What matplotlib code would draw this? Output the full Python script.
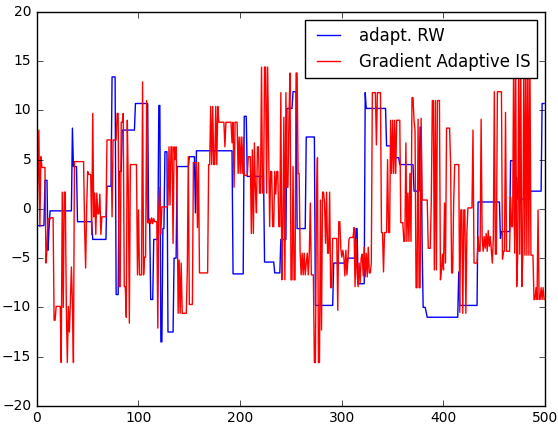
import numpy as np
import matplotlib
matplotlib.use('Agg')
import matplotlib.pyplot as plt

n_iter = 500

# adapt. RW : (start index, value) -- value is held until next start
rw_start = [0, 8, 11, 12, 13, 35, 36, 40, 55, 69, 74, 78, 81, 84, 97, 110, 112, 115,
            120, 122, 124, 126, 129, 135, 138, 150, 156, 157, 193, 204, 207, 224,
            234, 240, 246, 252, 256, 265, 274, 292, 306, 314, 316, 323, 324, 344,
            349, 357, 371, 377, 379, 380, 383, 384, 415, 416, 434, 456, 457, 466,
            470, 471, 473, 485, 497]
rw_val = [-1.7, 2.9, -4.2, -2.0, -0.2, 8.2, 4.3, -1.3, -3.1, 2.3, 13.4, -8.7, 3.8, 8.0,
          10.7, -1.4, -9.2, -3.1, 10.5, -13.5, -2.0, 5.8, -12.5, -5.0, 4.3, 5.3, -0.4,
          5.9, -6.6, 9.4, 3.3, -5.4, -6.5, -3.1, 10.2, 11.9, -2.0, 7.3, -9.8, -5.5,
          -5.0, -2.0, -7.6, 11.8, 10.2, 6.4, 5.2, 4.5, 1.8, 8.3, -4.0, -10.0, -10.5,
          -11.0, -6.4, -9.8, 0.7, -3.0, -2.3, 4.9, -3.1, 3.2, 1.0, 1.8, 10.7]

# Gradient Adaptive IS : (start index, value)
gis_start = [0, 1, 2, 3, 4, 5, 9, 10, 11, 14, 17, 19, 24, 25, 26, 27, 29, 30, 31, 32,
             33, 34, 35, 36, 37, 47, 48, 49, 50, 51, 54, 55, 56, 57, 58, 59, 60, 62,
             63, 64, 69, 74, 75, 79, 81, 83, 84, 85, 86, 88, 89, 90, 91, 92, 99, 100,
             101, 104, 105, 106, 108, 109, 111, 112, 113, 114, 115, 116, 119, 120, 121,
             122, 123, 129, 130, 131, 132, 134, 135, 136, 137, 138, 139, 140, 141, 142,
             143, 148, 149, 150, 154, 158, 159, 160, 169, 171, 172, 173, 174, 176, 177,
             178, 179, 185, 186, 192, 193, 194, 195, 198, 199, 200, 201, 202, 203, 204,
             208, 211, 212, 213, 214, 215, 216, 217, 219, 221, 222, 224, 226, 227, 228,
             229, 230, 232, 234, 235, 236, 238, 240, 241, 242, 243, 244, 245, 246, 248,
             249, 250, 252, 253, 255, 257, 259, 260, 261, 262, 263, 264, 265, 266, 267,
             268, 269, 270, 273, 275, 276, 277, 279, 280, 281, 283, 284, 285, 286, 288,
             289, 291, 296, 297, 299, 300, 301, 302, 303, 304, 305, 306, 307, 308, 312,
             313, 314, 315, 316, 317, 318, 319, 320, 321, 322, 323, 324, 325, 326, 327,
             329, 330, 334, 335, 339, 341, 342, 345, 346, 348, 349, 350, 351, 352, 353,
             354, 358, 361, 363, 364, 365, 366, 367, 368, 369, 371, 372, 373, 375, 376,
             377, 378, 379, 385, 388, 389, 391, 392, 393, 394, 397, 398, 399, 400, 401,
             402, 403, 407, 408, 410, 411, 416, 417, 419, 420, 422, 423, 424, 429, 430,
             434, 435, 437, 438, 439, 440, 441, 442, 443, 444, 445, 446, 447, 448, 449,
             450, 451, 453, 458, 459, 461, 462, 466, 467, 469, 470, 471, 472, 473, 474,
             475, 476, 477, 478, 479, 480, 481, 482, 483, 484, 485, 486, 489, 491, 492,
             493, 494, 496, 497, 498, 499]
gis_val = [-2.6, 3.0, 8.0, -1.8, 5.3, 4.2, -5.5, -4.0, -1.0, -0.9, -11.3, -9.9, -15.6,
           1.7, -10.0, 1.7, -9.9, -15.6, -9.9, -12.5, -9.5, -5.9, -9.5, -15.6, 4.8,
           -2.0, -6.0, 0.0, 3.8, 3.5, -2.6, 9.7, -0.8, 1.6, -2.6, 1.6, -0.5, 1.5, -2.6,
           -0.8, 7.0, -0.8, 7.0, 9.7, -7.9, 8.8, 8.8, 9.7, -7.9, -11.0, 9.0, 2.0, -11.6,
           4.5, -6.7, -0.1, -6.7, 12.9, -6.7, -4.9, 11.0, -1.4, -1.0, -1.5, -0.9, -1.5,
           -1.0, -1.3, -12.1, 0.0, 2.2, -2.6, 0.2, 0.4, 6.3, 0.4, 6.3, -3.5, 6.3, 5.0,
           6.3, 0.5, -10.6, -5.2, -10.6, -5.5, -10.6, -6.2, 5.3, -9.7, 4.7, -1.9, 4.7,
           -6.5, 4.5, 10.4, 4.5, 10.4, 4.5, 10.4, 4.5, 10.4, 8.8, 6.3, 8.8, 6.7, 8.8,
           2.2, 8.8, 3.6, 7.3, 3.6, 7.3, 3.6, 7.3, 3.4, 5.3, -2.5, 6.0, -2.5, 6.7, 2.0,
           -0.4, 6.3, 1.6, 14.4, 1.6, 14.4, 1.6, 14.4, 6.0, -1.8, 3.8, -1.8, 3.8, 1.5,
           3.8, -1.8, 11.8, -7.2, -2.0, 9.3, -7.2, 11.8, 2.2, 9.3, 13.8, -7.2, 4.3, -7.2,
           13.8, 3.6, -4.5, -6.7, -4.5, -6.7, -4.5, -6.7, -5.5, -4.5, -6.7, -4.5, 0.6,
           -6.7, -15.6, 0.0, 5.2, -15.6, 0.9, -12.3, 1.7, 0.6, -3.5, 1.7, -4.5, 1.7,
           -8.0, -3.0, -10.3, -1.3, -4.0, -4.9, -4.2, -4.9, -6.8, -4.2, -6.7, -5.2, -3.1,
           -2.9, -1.9, -7.9, -3.1, -6.5, -7.9, -5.5, -7.5, -5.0, -4.6, -6.8, -3.9, -6.9,
           -4.5, -6.9, -3.9, -6.5, -5.5, 11.8, 6.5, 11.8, -2.4, -6.4, -2.4, 5.0, -2.4,
           9.0, 3.6, 9.0, 3.6, 9.0, 3.6, 9.0, -1.4, -3.3, 6.7, -3.3, 1.6, -3.3, 3.6,
           -3.3, 11.3, 9.0, 8.0, -8.0, 9.1, -8.0, -8.0, 9.2, 0.9, -4.0, 0.9, 11.0, -6.2,
           11.0, -6.2, 11.0, -7.2, -6.2, -4.6, -6.2, 0.6, -5.5, 8.2, 4.5, -6.5, 0.6, 4.5,
           -10.5, -0.1, -10.6, -0.1, -10.6, -2.4, 0.1, 8.0, -5.5, -2.8, -4.3, 9.1, -2.8,
           -4.3, -2.8, -4.0, -2.5, -4.3, -2.2, -3.8, -2.8, -4.2, -5.5, -3.0, 11.9, -4.6,
           11.9, -5.1, -4.3, 9.8, -4.3, 1.2, -1.8, 15.5, -4.5, 15.5, -7.9, -4.6, 15.5,
           -4.6, 15.5, -7.9, -4.7, 15.5, -4.7, 15.5, -4.7, 15.5, -4.7, 15.5, -4.7, -9.2,
           -8.0, -9.2, -0.1, -9.2, -8.0, -9.2, -8.0, -9.2]


def hold(start, val):
    lens = np.diff(list(start) + [n_iter])
    return np.repeat(val, lens)


rw = hold(rw_start, rw_val)
gis = hold(gis_start, gis_val)
it = np.arange(n_iter)

plt.style.use('classic')
fig = plt.figure(figsize=(5.58, 4.25), dpi=100, facecolor='w')
ax = fig.add_axes([0.066, 0.045, 0.911, 0.927])
ax.plot(it, rw, color='b', linewidth=1, label='adapt. RW')
ax.plot(it, gis, color='r', linewidth=1, label='Gradient Adaptive IS')
ax.set_xlim(0, 500)
ax.set_ylim(-20, 20)
ax.tick_params(labelsize=10)
ax.legend(loc='upper right', fontsize=12)
fig.savefig('out.png', dpi=100, facecolor='w')
